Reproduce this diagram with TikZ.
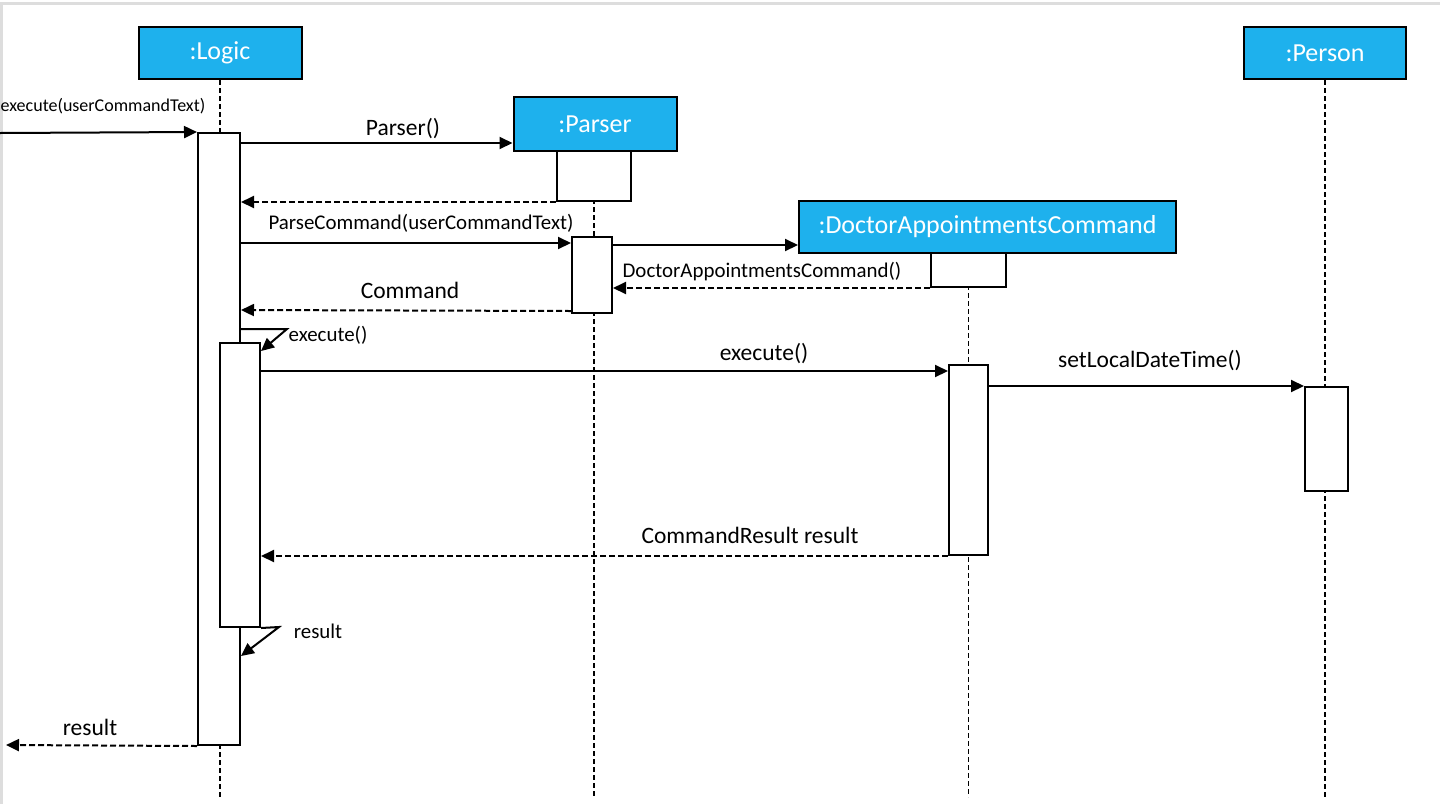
\documentclass[tikz,border=0pt]{standalone}
\usepackage{fontspec}
\setmainfont{Carlito}
\usetikzlibrary{arrows.meta, calc}
\definecolor{headblue}{HTML}{1EB1ED}
\definecolor{framegray}{HTML}{DDDDDD}
\tikzset{
  head/.style={rectangle, draw=black, fill=headblue, line width=2pt, inner sep=0pt,
               minimum height=52pt, text=white, font=\fontsize{26}{30}\selectfont},
  actbar/.style={rectangle, draw=black, fill=white, line width=2pt, inner sep=0pt},
  lifeline/.style={line width=1.5pt, dash pattern=on 5pt off 3pt},
  msg/.style={line width=2pt, -{Triangle[length=13pt, width=12pt]}},
  ret/.style={msg, dash pattern=on 6pt off 3pt},
  lbl/.style={font=\fontsize{23.5}{27}\selectfont, inner sep=0pt},
  lblsmall/.style={font=\fontsize{20.9}{25}\selectfont, inner sep=0pt},
  lbltiny/.style={font=\fontsize{18}{21}\selectfont, inner sep=0pt}
}

\begin{document}
\begin{tikzpicture}[x=1pt, y=-1pt]
  \useasboundingbox (0,0) rectangle (1440,804);
  \draw [framegray, line width=3pt] (1440,3) -- (1.5,3) -- (1.5,804);

  % heads
  \node (logic) [head, minimum width=163pt] at (220,53) {:Logic};
  \node (parser) [head, minimum width=163pt, minimum height=54pt] at (595,124) {:Parser};
  \node (dac) [head, minimum width=377pt] at (987.5,227) {:DoctorAppointmentsCommand};
  \node (person) [head, minimum width=162pt] at (1325,53) {:Person};

  \coordinate (logicend) at (220,797);
  \coordinate (parserend) at (594,797);
  \coordinate (dacend) at (968.5,797);
  \coordinate (personend) at (1325,797);
  \coordinate (caller) at (0,133);
  \coordinate (exit) at (6,745);

  % lifelines
  \draw [lifeline] (logic.south) -- (logicend);
  \draw [lifeline] (594,151) -- (parserend);
  \draw [lifeline] (968.5,253) -- (dacend);
  \draw [lifeline] (person.south) -- (personend);

  % activation bars
  \node (logicact) [actbar, minimum width=42pt, minimum height=612pt] at (219,439) {};
  \node (logicin) [actbar, minimum width=40pt, minimum height=284pt] at (240,485) {};
  \node (parsernew) [actbar, minimum width=74pt, minimum height=50pt] at (594,176) {};
  \node (parseract) [actbar, minimum width=40pt, minimum height=76pt] at (592,275) {};
  \node (dacnew) [actbar, minimum width=75pt, minimum height=34pt] at (968.5,270) {};
  \node (dacact) [actbar, minimum width=39pt, minimum height=190pt] at (968.5,460) {};
  \node (personact) [actbar, minimum width=43pt, minimum height=104pt] at (1326.5,439) {};

  % messages
  \draw [msg] (caller) -- (logicact.north west);
  \node (l1) [lbltiny] at (103,106) {execute(userCommandText)};

  \draw [msg] (logicact.east |- 0,143) -- (parser.west |- 0,143);
  \node (l2) [lbl] at (403,129) {Parser()};

  \draw [ret] (parsernew.south west) -- (logicact.east |- parsernew.south);

  \draw [msg] (logicact.east |- 0,243) -- (parseract.west |- 0,243);
  \node (l3) [lblsmall] at (421,223) {ParseCommand(userCommandText)};

  \draw [msg] (parseract.east |- 0,245) -- (dac.west |- 0,245);

  \draw [ret] (dacnew.south west) -- (parseract.east |- dacnew.south);
  \node (l4) [lblsmall] at (762,272) {DoctorAppointmentsCommand()};

  \draw [ret] (parseract.west |- 0,311) -- (logicact.east |- 0,310);
  \node (l5) [lbl] at (410,290) {Command};

  \draw [msg] (logicact.east |- 0,329) -- (287,329) -- ([yshift=-9pt]logicin.north east);
  \node (l6) [lblsmall] at (328,335) {execute()};

  \draw [msg] (logicin.east |- 0,371) -- (dacact.west |- 0,371);
  \node (l7) [lbl] at (764,354) {execute()};

  \draw [msg] (dacact.east |- personact.north) -- (personact.north west);
  \node (l8) [lbl] at (1150,361) {setLocalDateTime()};

  \draw [ret] (dacact.south west) -- (logicin.east |- dacact.south);
  \node (l9) [lbl] at (750,535) {CommandResult result};

  \draw [msg] (logicin.south east) -- (279,627) -- (logicact.east |- 0,656);
  \node (l10) [lblsmall] at (318,631) {result};

  \draw [ret] (logicact.south west) -- (exit);
  \node (l11) [lbl] at (90,727) {result};
\end{tikzpicture}
\end{document}
